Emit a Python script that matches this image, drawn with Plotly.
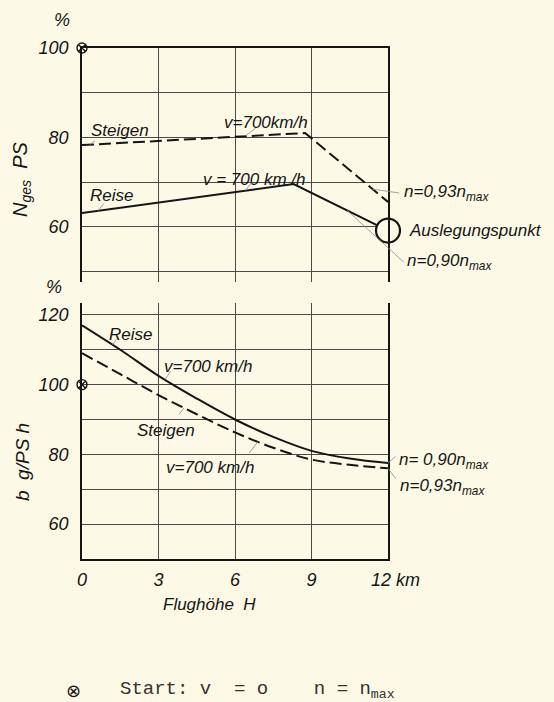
import numpy as np
import plotly.graph_objects as go

# ---------------- data ----------------
alt_top_steigen = [0, 6, 8.75, 12]
n_steigen = [78.3, 80.2, 81.0, 65.6]
alt_top_reise = [0, 8.3, 12]
n_reise = [63.1, 69.6, 59.2]

alt_b = [0, 1.5, 3, 4.5, 6, 7.5, 9, 10.5, 12]
b_reise = [117, 110, 102.5, 96, 90, 85, 81, 78.8, 77.5]
b_steigen = [109, 103, 97, 91.5, 86.3, 81.9, 78.5, 77.0, 76.0]

start_x = [0]
start_n = [100]
start_b = [100]
design_x = [12]
design_n = [59.2]

x_tickvals = [0, 3, 6, 9, 12]
x_ticktext = ["0", "3", "6", "9", "\u00a0\u00a0\u00a012 km"]
n_tickvals = [60, 80, 100]
n_minor = [50, 70, 90]
b_tickvals = [60, 80, 100, 120]
b_minor = [70, 90, 110]

# ---------------- style ----------------
W, H = 554, 702
BG = "#FCF9E6"
INK = "#151515"
GRID = "#4a4a4a"
LEAD = "#8a8a8a"
FONT = "Liberation Sans"
ITAL = dict(family=FONT, size=17, color=INK, style="italic")


def px(x):
    return x / W


def py(y):
    return 1 - y / H


fig = go.Figure()

# top panel: power
fig.add_trace(go.Scatter(x=alt_top_steigen, y=n_steigen, mode="lines",
                         line=dict(color=INK, width=2, dash="12px,5px"),
                         xaxis="x", yaxis="y", showlegend=False))
fig.add_trace(go.Scatter(x=alt_top_reise, y=n_reise, mode="lines",
                         line=dict(color=INK, width=2),
                         xaxis="x", yaxis="y", showlegend=False))
fig.add_trace(go.Scatter(x=design_x, y=design_n, mode="markers",
                         marker=dict(symbol="circle", size=24, color=BG,
                                     line=dict(color=INK, width=2.2)),
                         cliponaxis=False, xaxis="x", yaxis="y", showlegend=False))
fig.add_trace(go.Scatter(x=start_x, y=start_n, mode="markers",
                         marker=dict(symbol="circle-x-open", size=10, color=INK,
                                     line=dict(width=1.4)),
                         cliponaxis=False, xaxis="x", yaxis="y", showlegend=False))

# bottom panel: specific consumption
fig.add_trace(go.Scatter(x=alt_b, y=b_reise, mode="lines",
                         line=dict(color=INK, width=2, shape="spline"),
                         xaxis="x2", yaxis="y2", showlegend=False))
fig.add_trace(go.Scatter(x=alt_b, y=b_steigen, mode="lines",
                         line=dict(color=INK, width=2, shape="spline", dash="12px,5px"),
                         xaxis="x2", yaxis="y2", showlegend=False))
fig.add_trace(go.Scatter(x=start_x, y=start_b, mode="markers",
                         marker=dict(symbol="circle-x-open", size=10, color=INK,
                                     line=dict(width=1.4)),
                         cliponaxis=False, xaxis="x2", yaxis="y2", showlegend=False))

xdom = [px(82), px(388)]
common_axis = dict(showline=True, linecolor=INK, linewidth=1.6, zeroline=False,
                   showgrid=True, gridcolor=GRID, gridwidth=1, ticks="",
                   automargin=False,
                   tickfont=dict(family=FONT, size=18, color=INK, style="italic"))

fig.update_layout(
    width=W, height=H,
    autosize=False,
    margin=dict(l=0, r=0, t=0, b=0, pad=0, autoexpand=False),
    paper_bgcolor=BG, plot_bgcolor=BG,
    xaxis=dict(domain=xdom, range=[0, 12], anchor="y", side="top",
               tickvals=x_tickvals, showticklabels=False, **common_axis),
    yaxis=dict(domain=[py(282), py(48)], range=[47.7, 100], anchor="x",
               mirror=True, tickvals=n_tickvals, ticklabelstandoff=8,
               minor=dict(tickvals=n_minor, showgrid=True, gridcolor=GRID, gridwidth=1, ticks=""),
               **common_axis),
    xaxis2=dict(domain=xdom, range=[0, 12], anchor="y2",
                tickvals=x_tickvals, ticktext=x_ticktext, ticklabelstandoff=4,
                **common_axis),
    yaxis2=dict(domain=[py(559), py(303)], range=[50, 123.4], anchor="x2",
                mirror=True, tickvals=b_tickvals, ticklabelstandoff=8,
                minor=dict(tickvals=b_minor, showgrid=True, gridcolor=GRID, gridwidth=1, ticks=""),
                **common_axis),
)

ann = []


def text(t, x, y, xanchor="center", size=17, angle=0, font=None):
    f = dict(ITAL)
    f["size"] = size
    if font:
        f.update(font)
    ann.append(dict(text=t, x=px(x), y=py(y), xref="paper", yref="paper",
                    xanchor=xanchor, yanchor="middle", showarrow=False,
                    textangle=angle, font=f))


def leader(xs, ys, at, dx, dy, xa="x", ya="y"):
    yv = float(np.interp(at, xs, ys))
    ann.append(dict(text="", x=at, y=yv, xref=xa, yref=ya, ax=dx, ay=dy,
                    showarrow=True, arrowhead=0, arrowwidth=0.8,
                    arrowcolor=LEAD, standoff=0, startstandoff=0))


# top panel labels
text("Steigen", 120, 131)
text("v=700km/h", 266, 122)
text("Reise", 112, 195)
text("v = 700 km /h", 254, 179)
text("n=0,93n<sub>max</sub>", 402, 193, xanchor="left")
text("Auslegungspunkt", 407, 230, xanchor="left")
text("n=0,90n<sub>max</sub>", 405, 262, xanchor="left")

leader(alt_top_steigen, n_steigen, 0.3, 7, -5)
leader(alt_top_steigen, n_steigen, 6.4, 12, -9)
leader(alt_top_reise, n_reise, 0.63, 7, -9)
leader(alt_top_reise, n_reise, 6.4, 8, -10)
leader(alt_top_steigen, n_steigen, 11.4, 28, 4)
leader(alt_top_reise, n_reise, 10.4, 58, 53)

# bottom panel labels
text("Reise", 130, 334)
text("v=700 km/h", 208, 367)
text("Steigen", 166, 430)
text("v=700 km/h", 210, 467)
text("n= 0,90n<sub>max</sub>", 397, 461, xanchor="left")
text("n=0,93n<sub>max</sub>", 398, 487, xanchor="left")

leader(alt_b, b_reise, 1.2, 5, -7, "x2", "y2")
leader(alt_b, b_reise, 3.25, 7, -10, "x2", "y2")
leader(alt_b, b_steigen, 4.0, -6, 8, "x2", "y2")
leader(alt_b, b_steigen, 6.9, -10, 13, "x2", "y2")
leader(alt_b, b_reise, 12, 9, -8, "x2", "y2")
leader(alt_b, b_steigen, 12, 9, 12, "x2", "y2")

# axis titles
text("%", 62, 20, size=18)
text("%", 54, 287, size=18)
text("N<sub>ges</sub>\u00a0\u00a0PS", 22, 180, size=20, angle=-90)
text("b\u00a0\u00a0g/PS h", 22, 462, size=19, angle=-90)
text("Flughöhe\u00a0\u00a0H", 209, 604, size=17)

# footnote
ann.append(dict(text="⊗", x=px(73), y=py(690), xref="paper", yref="paper",
                showarrow=False, xanchor="center", yanchor="middle",
                font=dict(family="DejaVu Sans", size=18, color=INK)))
ann.append(dict(text="Start:\u00a0v\u00a0\u00a0=\u00a0o\u00a0\u00a0\u00a0\u00a0n\u00a0=\u00a0n<sub>max</sub>",
                x=px(118), y=py(690), xref="paper", yref="paper",
                showarrow=False, xanchor="left", yanchor="middle",
                font=dict(family="Liberation Mono", size=19, color="#333333")))

fig.update_layout(annotations=ann)
fig.write_html("out.html")
